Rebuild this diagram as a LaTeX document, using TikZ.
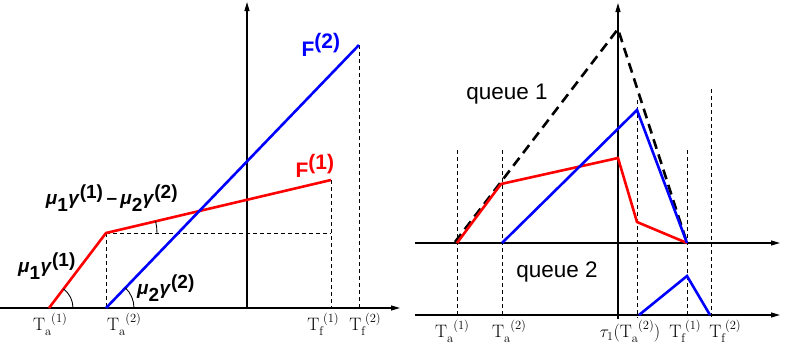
\documentclass[tikz,border=0pt]{standalone}
\usepackage[no-math]{fontspec}
\setmainfont{Liberation Sans}
\newfontfamily\lmr{Latin Modern Roman}
\usetikzlibrary{arrows.meta,angles}
\newcommand{\Tsub}[2]{{\lmr\fontsize{18}{20}\selectfont T\fontsize{12.5}{14}\selectfont\raisebox{-5pt}{#1}\raisebox{8pt}{(#2)}}}
\newcommand{\Tl}[2]{\Tsub{#1}{#2}}
\newcommand{\mgl}[2]{\textbf{\textit{μ}}$_{\textbf{#1}}$\textbf{\textit{γ}}$^{\textbf{(#2)}}$}
\begin{document}
\begin{tikzpicture}[x=1pt,y=-1pt,
  axis/.style={line width=1.2pt,-{Triangle[length=9pt,width=5pt]}},
  redl/.style={line width=2.6pt,red},
  bluel/.style={line width=2.6pt,blue},
  guide/.style={line width=0.9pt,dash pattern=on 4pt off 3pt},
  bigdash/.style={line width=2.6pt,dash pattern=on 10pt off 6pt},
  tick/.style={inner sep=0pt,anchor=north},
  qlab/.style={font=\fontsize{22.5}{24}\selectfont,inner sep=0pt},
  mlab/.style={font=\fontsize{19}{21}\selectfont,inner sep=0pt},
  flab/.style={font=\fontsize{21}{23}\selectfont\bfseries,inner sep=0pt}]
\useasboundingbox (0,0) rectangle (785,349);
% ---------- left panel ----------
\coordinate (LO) at (0,308);
\coordinate (LE) at (400,308);
\coordinate (LYb) at (247,308);
\coordinate (LYt) at (247,2);
\coordinate (A1) at (49,308);
\coordinate (A1r) at (90,308);
\coordinate (K) at (106,233);
\coordinate (R1) at (331,180);
\coordinate (A2) at (106,308);
\coordinate (A2r) at (150,308);
\coordinate (B2) at (359,45);
\coordinate (Kh) at (331,233);
\coordinate (R1b) at (331,308);
\coordinate (B2b) at (359,308);
\draw[axis] (LO) -- (LE);
\draw[axis] (LYb) -- (LYt);
\draw[guide] (K) -- (Kh);
\draw[guide] (K) -- (A2);
\draw[guide] (R1) -- (R1b);
\draw[guide] (B2) -- (B2b);
\draw[redl,line join=miter] (A1) -- (K) -- (R1);
\draw[bluel] (A2) -- (B2);
\pic[draw,line width=0.9pt,angle radius=24pt] {angle=A1r--A1--K};
\pic[draw,line width=0.9pt,angle radius=28pt] {angle=A2r--A2--B2};
\pic[draw,line width=0.9pt,angle radius=51pt] {angle=Kh--K--R1};
\node[flab,text=blue] (F2) at (321,45) {F$^{\textbf{(2)}}$};
\node[flab,text=red] (F1) at (315,166) {F$^{\textbf{(1)}}$};
\node[mlab] (m12) at (112,198) {\mgl{1}{1}\,\textbf{–}\,\mgl{2}{2}};
\node[mlab] (m1) at (47,266) {\mgl{1}{1}};
\node[mlab] (m2) at (166,288) {\mgl{2}{2}};
\node[tick] (ta1) at (50,313) {\Tl{a}{1}};
\node[tick] (ta2) at (124,313) {\Tl{a}{2}};
\node[tick] (tf1) at (323,313) {\Tl{f}{1}};
\node[tick] (tf2) at (365,313) {\Tl{f}{2}};
% ---------- right panel ----------
\coordinate (U0) at (415,243);
\coordinate (U1) at (780,243);
\coordinate (D0) at (415,315);
\coordinate (D1) at (780,315);
\coordinate (RYb) at (618,319);
\coordinate (RYt) at (618,3);
\coordinate (P0) at (457,243);
\coordinate (Pd) at (455,242);
\coordinate (Pk) at (618,29);
\coordinate (Pe) at (687,243);
\coordinate (r1) at (501,184);
\coordinate (r2) at (618,158);
\coordinate (r3) at (637,222);
\coordinate (b0) at (502,243);
\coordinate (b1) at (637,110);
\coordinate (c0) at (639,315);
\coordinate (c1) at (687,276);
\coordinate (c2) at (710,315);
\coordinate (g1t) at (457,150); \coordinate (g1b) at (457,318);
\coordinate (g2t) at (502,150); \coordinate (g2b) at (502,318);
\coordinate (g3t) at (637,100); \coordinate (g3b) at (637,318);
\coordinate (g4t) at (687,150); \coordinate (g4b) at (687,318);
\coordinate (g5t) at (711,89);  \coordinate (g5b) at (711,318);
\draw[guide] (g1t) -- (g1b);
\draw[guide] (g2t) -- (g2b);
\draw[guide] (g3t) -- (g3b);
\draw[guide] (g4t) -- (g4b);
\draw[guide] (g5t) -- (g5b);
\draw[axis] (U0) -- (U1);
\draw[axis] (D0) -- (D1);
\draw[axis] (RYb) -- (RYt);
\draw[bigdash] (Pd) -- (Pk) -- (Pe);
\draw[redl] (P0) -- (r1) -- (r2) -- (r3) -- (Pe);
\draw[bluel] (b0) -- (b1) -- (Pe);
\draw[bluel] (c0) -- (c1) -- (c2);
\node[qlab] (q1) at (507,94) {queue 1};
\node[qlab] (q2) at (557,272) {queue 2};
\node[tick] (u1) at (452,320) {\Tl{a}{1}};
\node[tick] (u2) at (509,320) {\Tl{a}{2}};
\node[tick] (u3) at (630,320) {{\lmr\fontsize{18}{20}\selectfont$\tau_1$(}\Tl{a}{2}{\lmr\fontsize{18}{20}\selectfont)}};
\node[tick] (u4) at (685,320) {\Tl{f}{1}};
\node[tick] (u5) at (725,320) {\Tl{f}{2}};
\end{tikzpicture}
\end{document}
